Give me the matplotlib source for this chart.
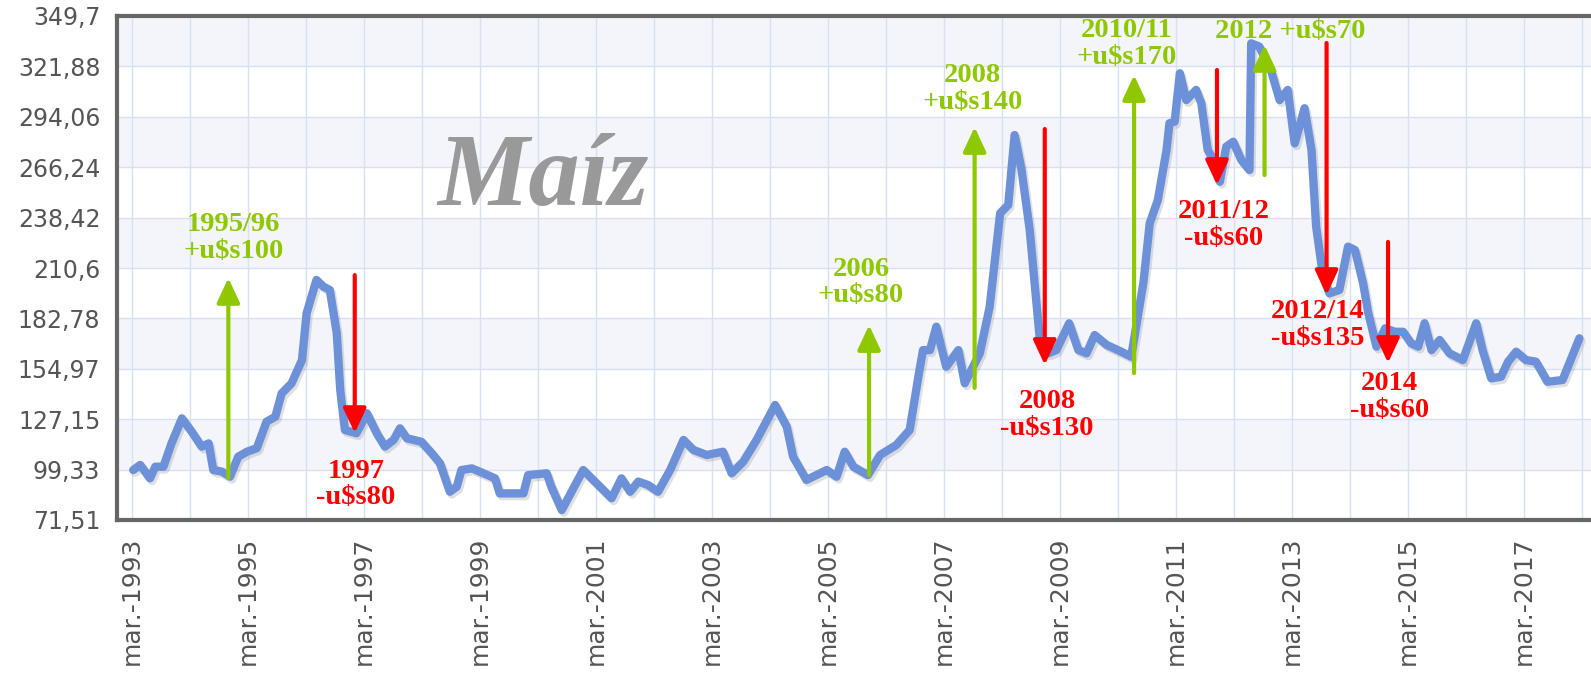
import matplotlib
matplotlib.use("Agg")
import matplotlib.pyplot as plt
import matplotlib.patheffects as pe

# precio del maiz (u$s/tn), fecha en años decimales
fechas = [1993.19, 1993.31, 1993.48, 1993.57, 1993.71, 1993.85, 1994.03, 1994.20, 1994.37, 1994.49,
          1994.57, 1994.72, 1994.86, 1995.00, 1995.15, 1995.32, 1995.49, 1995.64, 1995.75, 1995.92,
          1996.10, 1996.18, 1996.35, 1996.47, 1996.58, 1996.70, 1996.76, 1996.84, 1997.04, 1997.22,
          1997.39, 1997.53, 1997.68, 1997.79, 1997.91, 1998.16, 1998.34, 1998.48, 1998.65, 1998.77,
          1998.85, 1999.03, 1999.23, 1999.43, 1999.51, 1999.74, 1999.92, 2000.00, 2000.32, 2000.40,
          2000.58, 2000.78, 2000.95, 2001.18, 2001.44, 2001.61, 2001.76, 2001.90, 2002.07, 2002.24,
          2002.45, 2002.68, 2002.85, 2003.08, 2003.36, 2003.51, 2003.71, 2003.94, 2004.26, 2004.46,
          2004.57, 2004.80, 2005.15, 2005.32, 2005.46, 2005.61, 2005.86, 2006.07, 2006.35, 2006.58,
          2006.73, 2006.81, 2006.93, 2007.04, 2007.21, 2007.42, 2007.53, 2007.79, 2007.96, 2008.14,
          2008.28, 2008.39, 2008.51, 2008.65, 2008.82, 2008.97, 2009.11, 2009.33, 2009.49, 2009.63,
          2009.77, 2009.98, 2010.23, 2010.40, 2010.61, 2010.72, 2010.86, 2011.01, 2011.06, 2011.15,
          2011.24, 2011.35, 2011.52, 2011.61, 2011.72, 2011.86, 2011.93, 2012.04, 2012.16, 2012.30,
          2012.44, 2012.47, 2012.61, 2012.81, 2012.96, 2013.10, 2013.22, 2013.39, 2013.51, 2013.59,
          2013.71, 2013.82, 2013.99, 2014.14, 2014.26, 2014.40, 2014.49, 2014.63, 2014.78, 2014.95,
          2015.09, 2015.23, 2015.35, 2015.46, 2015.58, 2015.72, 2015.89, 2016.12, 2016.35, 2016.46,
          2016.61, 2016.78, 2016.90, 2017.04, 2017.21, 2017.38, 2017.58, 2017.84, 2018.13]
precios = [99.1, 101.9, 94.5, 100.9, 100.9, 113.8, 127.6, 120.2, 112.0, 113.8,
           99.1, 98.2, 95.4, 106.4, 109.2, 111.1, 125.8, 128.5, 141.4, 146.9,
           159.8, 185.6, 204.0, 200.3, 198.5, 174.6, 143.3, 121.2, 119.4, 130.4,
           119.4, 112.0, 115.7, 122.1, 116.6, 114.7, 108.3, 102.8, 87.1, 89.9,
           99.1, 100.0, 97.3, 94.5, 86.2, 86.2, 86.2, 96.3, 97.3, 89.9,
           77.0, 89.0, 99.1, 91.8, 83.5, 94.5, 87.1, 92.7, 90.8, 87.1,
           99.1, 115.7, 110.2, 107.4, 109.2, 97.3, 103.7, 115.7, 135.0, 123.0,
           106.4, 93.6, 99.1, 95.4, 109.2, 100.9, 96.3, 107.4, 112.9, 121.2,
           150.6, 165.3, 165.3, 178.2, 156.1, 165.3, 147.0, 163.5, 189.2, 240.8,
           245.4, 284.0, 264.7, 231.6, 172.7, 163.5, 165.3, 180.1, 165.3, 163.5,
           173.6, 168.1, 164.4, 161.6, 202.2, 235.3, 248.1, 275.7, 290.5, 291.4,
           318.1, 303.3, 308.9, 301.5, 275.7, 268.4, 258.2, 277.6, 280.3, 270.2,
           264.7, 334.6, 332.8, 319.9, 303.3, 308.9, 279.4, 298.8, 275.7, 233.4,
           205.8, 196.6, 198.5, 222.4, 220.5, 202.2, 185.6, 167.2, 177.3, 175.4,
           175.4, 169.0, 167.2, 180.1, 165.3, 170.9, 163.5, 159.8, 180.1, 165.3,
           149.7, 150.6, 158.9, 164.4, 159.8, 158.9, 147.8, 148.8, 171.8]

y_ticks = [71.51, 99.33, 127.15, 154.97, 182.78, 210.6, 238.42, 266.24, 294.06, 321.88, 349.7]
y_labels = ["71,51", "99,33", "127,15", "154,97", "182,78", "210,6",
            "238,42", "266,24", "294,06", "321,88", "349,7"]
x_years = list(range(1993, 2018, 2))
x_labels = ["mar.-%d" % a for a in x_years]

# subas (verde) y bajas (rojo): fecha, desde, hasta, texto, posicion del texto
subas = [
    (1994.83, 94.7, 205.1, "1995/96\n+u$s100", 1994.92, 227.0),
    (2005.88, 96.3, 179.1, "2006\n+u$s80", 2005.74, 202.6),
    (2007.70, 144.4, 288.4, "2008\n+u$s140", 2007.67, 309.5),
    (2010.45, 152.6, 317.1, "2010/11\n+u$s170", 2010.33, 334.0),
    (2012.70, 261.9, 333.7, "2012 +u$s70", 2013.15, 340.9),
]
bajas = [
    (1997.01, 206.7, 119.5, "1997\n-u$s80", 1997.03, 91.1),
    (2008.91, 287.3, 157.1, "2008\n-u$s130", 2008.95, 129.7),
    (2011.88, 319.9, 256.4, "2011/12\n-u$s60", 2012.00, 234.4),
    (2013.77, 334.8, 195.7, "2012/14\n-u$s135", 2013.62, 179.1),
    (2014.83, 225.0, 158.2, "2014\n-u$s60", 2014.86, 139.2),
]

VERDE = "#8fc800"
ROJO = "#ff0000"


def main():
    fig = plt.figure(figsize=(15.91, 6.76), dpi=100)
    ax = fig.add_axes([117 / 1591, 1 - 520 / 676, 1 - 117 / 1591, (520 - 16) / 676])

    ax.set_xlim(1992.91, 2018.33)
    ax.set_ylim(y_ticks[0], y_ticks[-1])

    # bandas alternadas
    for i in range(1, len(y_ticks) - 1, 2):
        ax.axhspan(y_ticks[i], y_ticks[i + 1], color="#f3f5fb", zorder=0, lw=0)
    for v in y_ticks:
        ax.axhline(v, color="#d8e0f2", lw=1, zorder=1)
    for a in range(1993, 2019):
        ax.axvline(a + 0.17, color="#d8e0f2", lw=1, zorder=1)

    ax.plot(fechas, precios, color="#6d91d9", lw=6, solid_joinstyle="round",
            solid_capstyle="round", zorder=3,
            path_effects=[pe.SimpleLineShadow(offset=(1.5, -2), alpha=0.18, shadow_color="#555555"),
                          pe.Normal()])

    ax.text(2000.26, 259, "Maíz", family="Liberation Serif", style="italic", weight="bold",
            fontsize=74, color="#999999", ha="center", va="center", zorder=2)

    for lista, color in ((subas, VERDE), (bajas, ROJO)):
        for x, desde, hasta, txt, tx, ty in lista:
            ax.annotate("", xy=(x, hasta), xytext=(x, desde),
                        arrowprops=dict(arrowstyle="-|>,head_length=0.75,head_width=0.35",
                                        color=color, lw=3, mutation_scale=20,
                                        shrinkA=0, shrinkB=0), zorder=4)
            ax.text(tx, ty, txt, color=color, family="Liberation Serif", weight="bold",
                    fontsize=20.5, ha="center", va="center", linespacing=1.1, zorder=5)

    ax.set_yticks(y_ticks)
    ax.set_yticklabels(y_labels)
    ax.set_xticks([a + 0.17 for a in x_years])
    ax.set_xticklabels(x_labels, rotation=90)
    ax.tick_params(length=0, labelcolor="#555555")
    ax.tick_params(axis="y", pad=12, labelsize=17)
    ax.tick_params(axis="x", pad=12, labelsize=18)

    for lado in ("left", "top", "bottom"):
        ax.spines[lado].set_color("#666666")
        ax.spines[lado].set_linewidth(3)
    ax.spines["right"].set_visible(False)

    fig.savefig("out.png", dpi=100)
    plt.close(fig)


if __name__ == "__main__":
    main()
